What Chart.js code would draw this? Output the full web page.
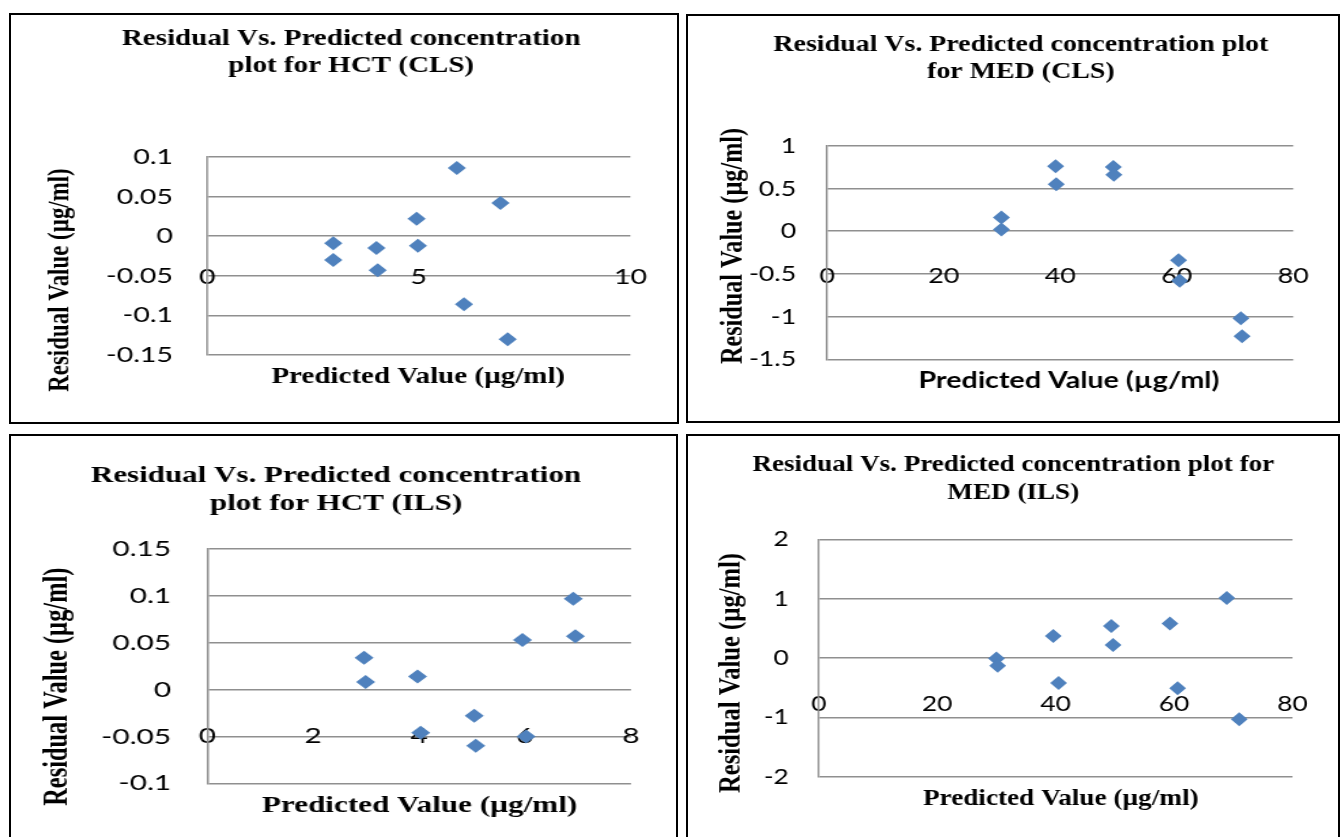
<!DOCTYPE html>
<html>
<head>
<meta charset="utf-8">
<title>Residual vs. predicted concentration plots</title>
<script src="https://cdn.jsdelivr.net/npm/chart.js@4.4.1/dist/chart.umd.min.js"></script>
<style>
	html, body { margin: 0; padding: 0; background: #fff; width: 1340px; height: 837px; overflow: hidden; }
	.panel { position: absolute; box-sizing: border-box; border: 2px solid #000; background: #fff; overflow: hidden; }
	.panel canvas { position: absolute; left: 0; top: 0; }
</style>
</head>
<body>
<div class="panel" id="hct-cls"><canvas></canvas></div>
<div class="panel" id="med-cls"><canvas></canvas></div>
<div class="panel" id="hct-ils"><canvas></canvas></div>
<div class="panel" id="med-ils"><canvas></canvas></div>
<script>
	// HCT (CLS)
	const hctClsPred = [ 2.98, 2.98, 4.0, 4.03, 4.95, 4.98, 5.9, 6.07, 6.93, 7.1 ];
	const hctClsResid = [ -0.009, -0.03, -0.015, -0.043, 0.022, -0.012, 0.086, -0.086, 0.042, -0.13 ];
	const hctClsXTicks = [ 0, 5, 10 ];
	const hctClsYTicks = [ -0.15, -0.1, -0.05, 0, 0.05, 0.1 ];

	// MED (CLS)
	const medClsPred = [ 29.9, 29.9, 39.2, 39.3, 49.1, 49.2, 60.3, 60.5, 71.0, 71.2 ];
	const medClsResid = [ 0.16, 0.02, 0.76, 0.55, 0.75, 0.66, -0.34, -0.58, -1.02, -1.23 ];
	const medClsXTicks = [ 0, 20, 40, 60, 80 ];
	const medClsYTicks = [ -1.5, -1, -0.5, 0, 0.5, 1 ];

	// HCT (ILS)
	const hctIlsPred = [ 2.96, 2.99, 3.97, 4.03, 5.04, 5.07, 5.95, 6.02, 6.91, 6.95 ];
	const hctIlsResid = [ 0.034, 0.008, 0.014, -0.046, -0.028, -0.06, 0.053, -0.05, 0.097, 0.057 ];
	const hctIlsXTicks = [ 0, 2, 4, 6, 8 ];
	const hctIlsYTicks = [ -0.1, -0.05, 0, 0.05, 0.1, 0.15 ];

	// MED (ILS)
	const medIlsPred = [ 30.0, 30.2, 39.6, 40.5, 49.4, 49.7, 59.3, 60.6, 68.9, 71.0 ];
	const medIlsResid = [ -0.01, -0.13, 0.37, -0.42, 0.54, 0.22, 0.58, -0.51, 1.01, -1.03 ];
	const medIlsXTicks = [ 0, 20, 40, 60, 80 ];
	const medIlsYTicks = [ -2, -1, 0, 1, 2 ];

	const GRID = '#8f8f8f';
	const MARK = '#4f81bd';
	const SERIF = '"Liberation Serif", "Times New Roman", serif';
	const SANS = 'Lato, "Open Sans", sans-serif';
	const X_CAP = 'Predicted Value (µg/ml)';
	const Y_CAP = 'Residual Value (µg/ml)';

	// The source figure is stretched sideways; each canvas is drawn narrow and widened by CSS (sx).
	// All positions below are page pixels; they are mapped into canvas units when the chart is built.
	const panels = [
		{
			id: 'hct-cls', box: [ 9, 13, 670, 411 ], sx: 1.3, area: [ 207, 157, 630, 355 ],
			pred: hctClsPred, resid: hctClsResid, xTicks: hctClsXTicks, yTicks: hctClsYTicks,
			xPad: 19.5, yGap: 34,
			title: [ 'Residual Vs. Predicted concentration', 'plot for HCT (CLS)' ], titleAt: [ 351, 45, 71.5 ], titleSize: 22.3,
			xCapAt: [ 418, 383 ], xCapFont: 'bold 22.3px ' + SERIF,
			yCapAt: [ 68, 280 ], yCapSize: 22.9,
		},
		{
			id: 'med-cls', box: [ 686, 14, 654, 409 ], sx: 1.22, area: [ 827.3, 145.7, 1308.4, 359.3 ],
			pred: medClsPred, resid: medClsResid, xTicks: medClsXTicks, yTicks: medClsYTicks,
			xPad: 23.9, yGap: 31,
			title: [ 'Residual Vs. Predicted concentration plot', 'for MED (CLS)' ], titleAt: [ 1021, 50.7, 78 ], titleSize: 22.9,
			xCapAt: [ 1069, 388 ], xCapFont: 'bold 23.5px ' + SANS,
			yCapAt: [ 742, 246 ], yCapSize: 24.2,
		},
		{
			id: 'hct-ils', box: [ 9, 434, 669, 420 ], sx: 1.36, area: [ 207.3, 549, 631, 783.3 ],
			pred: hctIlsPred, resid: hctIlsResid, xTicks: hctIlsXTicks, yTicks: hctIlsYTicks,
			xPad: 25.2, yGap: 36,
			title: [ 'Residual Vs. Predicted concentration', 'plot for HCT (ILS)' ], titleAt: [ 336, 482.3, 510 ], titleSize: 22.8,
			xCapAt: [ 419.6, 811.7 ], xCapFont: 'bold 22.9px ' + SERIF,
			yCapAt: [ 66.5, 686.7 ], yCapSize: 24.4,
		},
		{
			id: 'med-ils', box: [ 686, 434, 654, 420 ], sx: 1.2, area: [ 818.9, 539.3, 1306.3, 776.7 ],
			pred: medIlsPred, resid: medIlsResid, xTicks: medIlsXTicks, yTicks: medIlsYTicks,
			xPad: 25.2, yGap: 30,
			title: [ 'Residual Vs. Predicted concentration plot for', 'MED (ILS)' ], titleAt: [ 1013.5, 470.7, 499 ], titleSize: 22.6,
			xCapAt: [ 1061, 805 ], xCapFont: 'bold 22.7px ' + SERIF,
			yCapAt: [ 740, 673 ], yCapSize: 24.6,
		},
	];

	// Title and axis captions, drawn on top of each chart.
	const panelText = {
		id: 'panelText',
		afterDraw( chart, args, o ) {
			const ctx = chart.ctx;
			ctx.save();
			ctx.fillStyle = '#000';
			ctx.textAlign = 'center';
			ctx.textBaseline = 'alphabetic';
			ctx.font = `bold ${ o.titleSize }px ${ SERIF }`;
			o.title.forEach( ( line, i ) => ctx.fillText( line, o.titleX, o.titleY[ i ] ) );
			ctx.font = o.xCapFont;
			ctx.fillText( X_CAP, o.xCapX, o.xCapY );
			ctx.translate( o.yCapX, o.yCapY );
			ctx.rotate( -Math.PI / 2 );
			ctx.font = `bold ${ o.yCapSize }px ${ SERIF }`;
			ctx.fillText( Y_CAP, 0, 0 );
			ctx.restore();
		},
	};

	const fmt = ( v ) => String( Math.round( v * 100 ) / 100 );

	function build( p ) {
		const el = document.getElementById( p.id );
		const [ left, top, width, height ] = p.box;
		Object.assign( el.style, { left: left + 'px', top: top + 'px', width: width + 'px', height: height + 'px' } );

		const innerW = width - 4;
		const innerH = height - 4;
		const ox = left + 2;
		const oy = top + 2;
		const cx = ( x ) => ( x - ox ) / p.sx;
		const cy = ( y ) => y - oy;

		const canvas = el.querySelector( 'canvas' );
		canvas.width = Math.round( innerW / p.sx );
		canvas.height = innerH;
		canvas.style.width = innerW + 'px';
		canvas.style.height = innerH + 'px';

		const [ L, T, R, B ] = p.area;
		// y scale takes (almost) all the room left of the plot, so its labels are not clipped
		const yWidth = cx( L ) - 2;
		const tickFont = { family: SANS, size: 22 };

		new Chart( canvas, {
			type: 'scatter',
			data: {
				datasets: [ {
					data: p.pred.map( ( x, i ) => ( { x, y: p.resid[ i ] } ) ),
					pointStyle: 'rectRot',
					pointRadius: 7,
					pointHoverRadius: 7,
					backgroundColor: MARK,
					borderColor: MARK,
					borderWidth: 0,
				} ],
			},
			options: {
				responsive: false,
				devicePixelRatio: 1,
				animation: false,
				events: [],
				layout: { padding: { left: 2, right: canvas.width - cx( R ), top: cy( T ), bottom: canvas.height - cy( B ) } },
				plugins: {
					legend: { display: false },
					tooltip: { enabled: false },
					panelText: {
						title: p.title,
						titleSize: p.titleSize,
						titleX: cx( p.titleAt[ 0 ] ),
						titleY: [ cy( p.titleAt[ 1 ] ), cy( p.titleAt[ 2 ] ) ],
						xCapFont: p.xCapFont,
						xCapX: cx( p.xCapAt[ 0 ] ),
						xCapY: cy( p.xCapAt[ 1 ] ),
						yCapX: cx( p.yCapAt[ 0 ] ),
						yCapY: cy( p.yCapAt[ 1 ] ),
						yCapSize: p.yCapSize,
					},
				},
				scales: {
					x: {
						type: 'linear',
						position: { y: 0 },
						z: 1,
						min: p.xTicks[ 0 ],
						max: p.xTicks[ p.xTicks.length - 1 ],
						afterBuildTicks: ( s ) => { s.ticks = p.xTicks.map( ( value ) => ( { value } ) ); },
						grid: { display: false },
						border: { display: false },
						ticks: { font: tickFont, color: '#000', padding: p.xPad, maxRotation: 0, autoSkip: false, callback: fmt },
					},
					y: {
						type: 'linear',
						min: p.yTicks[ 0 ],
						max: p.yTicks[ p.yTicks.length - 1 ],
						afterBuildTicks: ( s ) => { s.ticks = p.yTicks.map( ( value ) => ( { value } ) ); },
						afterFit: ( s ) => { s.width = yWidth; },
						grid: { color: GRID, lineWidth: 1.5, drawTicks: false },
						border: { display: true, color: GRID, width: 1.5 },
						ticks: { font: tickFont, color: '#000', padding: p.yGap / p.sx, autoSkip: false, callback: fmt },
					},
				},
			},
			plugins: [ panelText ],
		} );
	}

	panels.forEach( build );
</script>
</body>
</html>
